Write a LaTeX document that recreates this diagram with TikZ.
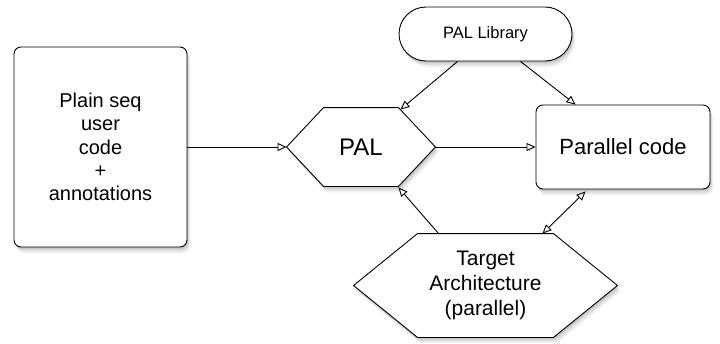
\documentclass[tikz,border=0pt]{standalone}
\usepackage{fontspec}
\setmainfont{Liberation Sans}
\usetikzlibrary{arrows.meta, calc, shadows}

\begin{document}
\begin{tikzpicture}[x=1pt, y=-1pt, line width=0.9pt,
    >={Triangle[open, length=9pt, width=8pt]},
    soft shadow/.style={
        drop shadow={shadow xshift=3pt, shadow yshift=-6pt, opacity=0.12},
        drop shadow={shadow xshift=2pt, shadow yshift=-4pt, opacity=0.18},
        drop shadow={shadow xshift=1pt, shadow yshift=-2pt, opacity=0.25}},
    shade box/.style={draw, fill=white, rounded corners=7pt, soft shadow},
    hexa/.style={draw, fill=white, line join=miter, soft shadow}]
\useasboundingbox (0,0) rectangle (720,343);
% boxes
\node[shade box, minimum width=173pt, minimum height=200pt, align=center,
      font=\fontsize{20}{23.3}\selectfont] (src) at (100.5,147)
      {Plain seq\\user\\code\\+\\annotations};
\node[shade box, rounded corners=27pt, minimum width=173pt, minimum height=54pt,
      font=\fontsize{16.5}{19}\selectfont] (lib) at (485.5,34) {PAL Library};
\node[shade box, minimum width=174pt, minimum height=84pt,
      font=\fontsize{22}{26}\selectfont] (par) at (623,147) {Parallel code};
% hexagons
\node[minimum width=148pt, minimum height=78pt, inner sep=0pt] (pal) at (361,147) {};
\path[hexa] (pal.west) -- ($(pal.north west)+(37,0)$) -- ($(pal.north east)+(-37,0)$)
    -- (pal.east) -- ($(pal.south east)+(-37,0)$) -- ($(pal.south west)+(37,0)$) -- cycle;
\node[font=\fontsize{24}{28}\selectfont] at (pal) {PAL};
\node[minimum width=263pt, minimum height=103pt, inner sep=0pt] (tgt) at (485.5,285.5) {};
\path[hexa] (tgt.west) -- ($(tgt.north west)+(64,0)$) -- ($(tgt.north east)+(-64,0)$)
    -- (tgt.east) -- ($(tgt.south east)+(-64,0)$) -- ($(tgt.south west)+(64,0)$) -- cycle;
\node[align=center, font=\fontsize{21}{25}\selectfont] at (tgt)
    {Target\\Architecture\\(parallel)};
% connector ends
\coordinate (libL) at ($(lib.south)+(-28,0)$);
\coordinate (libR) at ($(lib.south)+(35,0)$);
\coordinate (palNE) at ($(pal.north east)+(-35,2)$);
\coordinate (palSE) at ($(pal.south east)+(-37,1)$);
\coordinate (parN) at ($(par.north west)+(40,0)$);
\coordinate (parS) at ($(par.south west)+(50,2)$);
\coordinate (tgtA) at ($(tgt.north west)+(85,0)$);
\coordinate (tgtB) at ($(tgt.north east)+(-75,0)$);
% arrows
\draw[->] (src.east) -- (pal.west);
\draw[->] (pal.east) -- (par.west);
\draw[->] (libL) -- (palNE);
\draw[->] (libR) -- (parN);
\draw[->] (tgtA) -- (palSE);
\draw[<->] (parS) -- (tgtB);
\end{tikzpicture}
\end{document}
